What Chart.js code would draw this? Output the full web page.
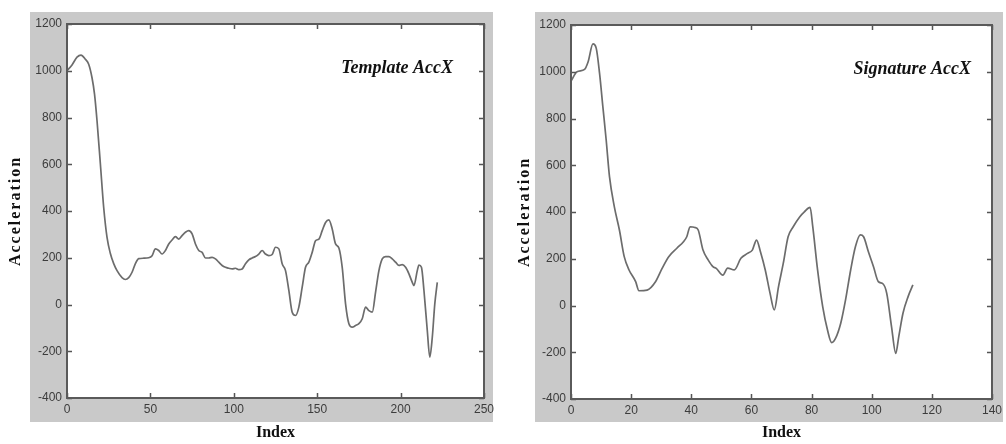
<!DOCTYPE html>
<html>
<head>
<meta charset="utf-8">
<script src="https://cdn.jsdelivr.net/npm/chart.js@4/dist/chart.umd.min.js"></script>
<style>
  html, body { margin: 0; padding: 0; background: #fff; }
  .panel { position: absolute; top: 0; height: 444px; }
  #leftBox { left: 0; width: 500px; }
  #rightBox { left: 500px; width: 506px; }
</style>
</head>
<body>
<div class="panel" id="leftBox"><canvas id="chartTemplate"></canvas></div>
<div class="panel" id="rightBox"><canvas id="chartSignature"></canvas></div>
<script>
// Template AccX
var templateIdx = [0, 3, 6, 8.4, 11, 13, 15, 16.5, 18, 20, 22, 24, 26, 28, 30, 33, 35, 37, 39, 41, 43, 46, 49, 51, 53, 55, 57, 59, 61, 63, 65, 67, 69, 71, 73, 75, 77, 79,
    81, 83, 85, 87, 89, 91, 93, 95, 97, 99, 101, 103, 105, 107, 109, 111, 113, 115, 117, 119, 121, 123, 125, 127, 129, 131, 133, 135, 137, 139, 141, 143, 145, 147, 149,
    151, 153, 155, 157, 159, 161, 163, 165, 167, 169, 171, 173, 175, 177, 179, 181, 183, 185, 187, 189, 191, 193, 195, 197, 199, 201, 203, 205, 207, 208, 210, 211,
    212.5, 214, 216, 217.5, 219, 220.5, 222];
var templateAcc = [1000, 1025, 1058, 1067, 1049, 1028, 970, 900, 786, 602, 415, 287, 218, 175, 145, 115, 107, 115, 138, 175, 196, 198, 200, 209, 238, 231, 216, 231, 259, 276, 290, 280, 295, 309, 316, 302, 259, 231,
    223, 199, 199, 202, 195, 181, 167, 159, 155, 152, 155, 149, 152, 174, 191, 199, 205, 216, 231, 216, 209, 214, 245, 238, 174, 145, 60, -33, -47, -11, 74, 159, 181, 223, 273,
    280, 316, 351, 362, 323, 259, 242, 159, 3, -82, -97, -90, -82, -61, -11, -26, -33, 53, 145, 195, 205, 205, 195, 181, 167, 171, 159, 131, 95, 81, 145, 169,
    159, 60, -111, -225, -140, 3, 95];

// Signature AccX
var signatureIdx = [0, 2, 4.5, 5.7, 7.3, 8.4, 9.5, 10.6, 11.7, 12.8, 14.4, 16.1, 17.7, 19.3, 21.5, 22.6, 25.3, 28.1, 30.3, 32.5, 35.2, 37.4, 38.5, 39.6, 41.2, 42.3,
    43.9, 45.6, 47.2, 48.3, 50.5, 52.1, 54.3, 56.5, 58.7, 60.3, 61.7, 63, 64.6, 66.2, 67.6, 69, 70.6, 72.2, 73.9, 76.1, 77.6, 79.5, 80.4, 82, 83.7, 85.3, 86.7, 88,
    89.7, 91.3, 93, 94.6, 96.2, 97.3, 98.9, 100.6, 102.2, 103.8, 105, 106.6, 108, 109, 110.4, 112.1, 113.7];
var signatureAcc = [960, 1000, 1010, 1043, 1119, 1100, 993, 850, 708, 551, 423, 323, 209, 152, 102, 63, 66, 102, 159, 209, 245, 273, 294, 337, 334, 323,
    237, 195, 166, 159, 130, 160, 152, 202, 223, 237, 280, 230, 152, 52, -19, 80, 181, 294, 337, 380, 401, 420, 337, 152, -5, -105, -159, -140,
    -76, 24, 152, 252, 302, 294, 230, 166, 102, 92, 52, -91, -205, -133, -33, 38, 88];

var yTicks = { min: -400, max: 1200, step: 200 };

function toPoints(xs, ys) {
    var pts = [];
    for (var i = 0; i < xs.length; i++) pts.push({ x: xs[i], y: ys[i] });
    return pts;
}

// matlab-like frame: gray figure, white axes, box and inward ticks
var framePlugin = {
    id: 'frame',
    beforeDraw: function(chart, args, opts) {
        var ctx = chart.ctx, a = chart.chartArea;
        ctx.save();
        ctx.fillStyle = '#c9c9c9';
        ctx.fillRect(opts.panel[0], opts.panel[1], opts.panel[2], opts.panel[3]);
        ctx.fillStyle = '#ffffff';
        ctx.fillRect(a.left, a.top, a.right - a.left, a.bottom - a.top);
        ctx.restore();
    },
    afterDraw: function(chart, args, opts) {
        var ctx = chart.ctx, a = chart.chartArea;
        var xs = chart.scales.x, ys = chart.scales.y;
        ctx.save();
        ctx.strokeStyle = '#555';
        ctx.lineWidth = 1.5;
        ctx.beginPath();
        xs.ticks.forEach(function(t) {
            var px = Math.round(xs.getPixelForValue(t.value)) + 0.5;
            ctx.moveTo(px, a.bottom); ctx.lineTo(px, a.bottom - 5);
            ctx.moveTo(px, a.top); ctx.lineTo(px, a.top + 5);
        });
        ys.ticks.forEach(function(t) {
            var py = Math.round(ys.getPixelForValue(t.value)) + 0.5;
            ctx.moveTo(a.left, py); ctx.lineTo(a.left + 5, py);
            ctx.moveTo(a.right, py); ctx.lineTo(a.right - 5, py);
        });
        ctx.stroke();
        ctx.lineWidth = 2;
        ctx.strokeStyle = '#5a5a5a';
        ctx.strokeRect(a.left, a.top, a.right - a.left, a.bottom - a.top);

        // label inside the axes
        ctx.fillStyle = '#111';
        ctx.font = 'italic bold 18px "Liberation Serif"';
        ctx.textAlign = 'right';
        ctx.textBaseline = 'middle';
        ctx.fillText(opts.label, a.right - opts.labelRight, a.top + 44);

        // y axis title
        ctx.translate(opts.yTitleX, (a.top + a.bottom) / 2);
        ctx.rotate(-Math.PI / 2);
        ctx.font = 'bold 16px "Liberation Serif"';
        ctx.letterSpacing = '2px';
        ctx.textAlign = 'center';
        ctx.fillText('Acceleration', 0, 0);
        ctx.restore();
    }
};

function plainTick(value) {
    return String(value);
}

function makeChart(id, xs, ys, xMax, xStep, frame, yWidth, xHeight, pad) {
    return new Chart(document.getElementById(id), {
        type: 'line',
        data: {
            datasets: [{
                data: toPoints(xs, ys),
                borderColor: '#6c6c6c',
                borderWidth: 1.7,
                pointRadius: 0,
                fill: false,
                cubicInterpolationMode: 'monotone'
            }]
        },
        options: {
            responsive: true,
            maintainAspectRatio: false,
            animation: false,
            layout: { padding: pad },
            plugins: {
                legend: { display: false },
                tooltip: { enabled: false },
                frame: frame
            },
            scales: {
                x: {
                    type: 'linear',
                    min: 0,
                    max: xMax,
                    ticks: {
                        stepSize: xStep,
                        color: '#3c3c3c',
                        padding: 4,
                        maxRotation: 0,
                        callback: plainTick,
                        font: { family: 'Liberation Sans', size: 12 }
                    },
                    grid: { display: false, drawTicks: false },
                    border: { display: false },
                    title: {
                        display: true,
                        text: 'Index',
                        color: '#111',
                        font: { family: 'Liberation Serif', size: 16, weight: 'bold' },
                        padding: { top: 0, bottom: 2 }
                    },
                    afterFit: function(s) { s.height = xHeight; }
                },
                y: {
                    min: yTicks.min,
                    max: yTicks.max,
                    ticks: {
                        stepSize: yTicks.step,
                        color: '#3c3c3c',
                        padding: 5,
                        callback: plainTick,
                        font: { family: 'Liberation Sans', size: 12 }
                    },
                    grid: { display: false, drawTicks: false },
                    border: { display: false },
                    afterFit: function(s) { s.width = yWidth; }
                }
            }
        },
        plugins: [framePlugin]
    });
}

var chartTemplate = makeChart('chartTemplate', templateIdx, templateAcc, 250, 50,
    { panel: [30, 12, 463, 410], label: 'Template AccX', labelRight: 31, yTitleX: 16 },
    67, 46, { left: 0, right: 16, top: 24, bottom: 0 });

var chartSignature = makeChart('chartSignature', signatureIdx, signatureAcc, 140, 20,
    { panel: [35, 12, 468, 410], label: 'Signature AccX', labelRight: 21, yTitleX: 25 },
    71, 45, { left: 0, right: 8, top: 25, bottom: 0 });
</script>
</body>
</html>
